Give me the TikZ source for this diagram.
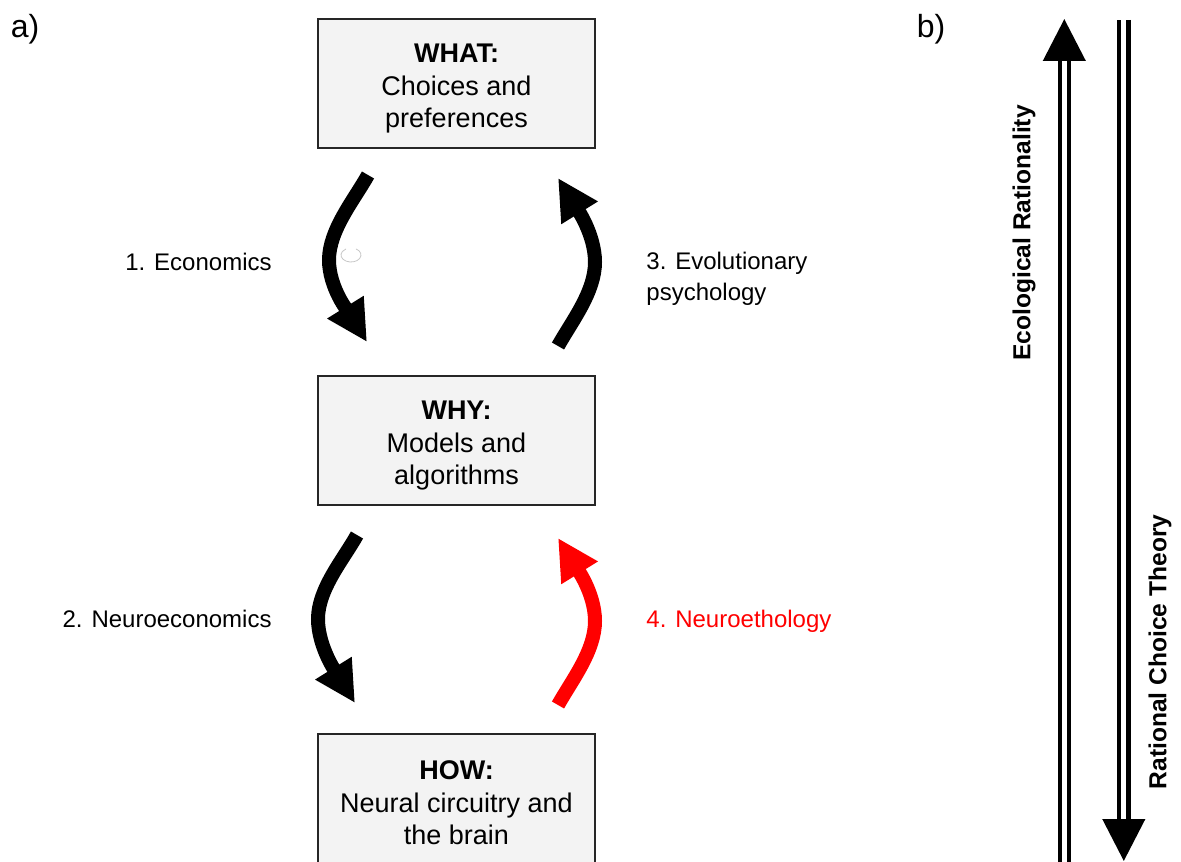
\documentclass[tikz,border=0pt]{standalone}
\usepackage{fontspec}
\setmainfont{Liberation Sans}
\usetikzlibrary{arrows.meta}
\definecolor{boxGray}{RGB}{243,243,243}
\definecolor{edgeGray}{RGB}{38,38,38}
\definecolor{ethoRed}{RGB}{255,0,0}
\tikzset{
  stage/.style={draw=edgeGray, line width=1pt, fill=boxGray, align=center, minimum width=138.5pt, minimum height=64.5pt, font=\fontsize{13.5}{16.2}\selectfont},
  swoop/.style={line width=7pt, -{Triangle[length=20.5pt,width=20pt]}},
  twin/.style={double, line width=2.2pt, double distance=2.4pt, -{Triangle[length=21pt,width=21pt]}},
  lbl/.style={align=left, font=\fontsize{12}{15.5}\selectfont, inner sep=0pt},
  sidelbl/.style={rotate=90, font=\fontsize{12.3}{15}\selectfont\bfseries, inner sep=0pt},
  panel/.style={font=\fontsize{16}{18}\selectfont, inner sep=0pt}
}
\newcommand{\headline}[1]{\rule{0pt}{14.5pt}\textbf{#1}}

\begin{document}
\begin{tikzpicture}[x=0.5pt,y=-0.5pt]
  \useasboundingbox (0,0) rectangle (1181,861);
  \clip (0,0) rectangle (1181,861);

  % panel a: the three levels
  \node[panel] (pa) at (25,29) {a)};
  \node[stage] (what) at (456.5,83.5) {\headline{WHAT:}\\Choices and\\preferences};
  \node[stage] (why) at (456.5,440.5) {\headline{WHY:}\\Models and\\algorithms};
  \node[stage] (how) at (456.5,798) {\headline{HOW:}\\Neural circuitry and\\the brain};

  \coordinate (econ-from) at (368,175);
  \coordinate (econ-via) at (329,260);
  \coordinate (econ-to) at (367,342);
  \coordinate (nec-from) at (357,535);
  \coordinate (nec-via) at (318,619);
  \coordinate (nec-to) at (355,703);
  \coordinate (evo-from) at (558,346);
  \coordinate (evo-via) at (595,262);
  \coordinate (evo-to) at (558,178);
  \coordinate (eth-from) at (558,705);
  \coordinate (eth-via) at (595,621);
  \coordinate (eth-to) at (558,538);

  \draw[swoop] (econ-from) .. controls +(-14,25) and +(0,-30) .. (econ-via)
    .. controls +(0,28) and +(-18,-29) .. (econ-to);
  \draw[swoop] (nec-from) .. controls +(-14,25) and +(0,-30) .. (nec-via)
    .. controls +(0,28) and +(-18,-29) .. (nec-to);
  \draw[swoop] (evo-from) .. controls +(14,-25) and +(0,30) .. (evo-via)
    .. controls +(0,-28) and +(18,29) .. (evo-to);
  \draw[swoop, ethoRed] (eth-from) .. controls +(14,-25) and +(0,30) .. (eth-via)
    .. controls +(0,-28) and +(18,29) .. (eth-to);

  \node[lbl, anchor=east] (econ) at (272,262) {1. Economics};
  \node[lbl, anchor=east] (nec) at (272,619) {2. Neuroeconomics};
  \node[lbl, anchor=west] (evo) at (646,279) {3. Evolutionary\\psychology};
  \node[lbl, anchor=west, text=ethoRed] (eth) at (646,621) {4. Neuroethology};

  % stray handle mark
  \draw[gray!45, line width=0.4pt] (351,255) ++(-60:10 and 7) arc[start angle=-60, end angle=240, x radius=10, y radius=7];

  % panel b: the two directions
  \node[panel] (pb) at (931,29) {b)};
  \coordinate (eco-base) at (1064.3,875);
  \coordinate (eco-tip) at (1064.3,19);
  \coordinate (rct-base) at (1123.8,20);
  \coordinate (rct-tip) at (1123.8,861);
  \draw[twin] (eco-base) -- (eco-tip);
  \draw[twin] (rct-base) -- (rct-tip);
  \node[sidelbl] (ecorat) at (1024,233) {Ecological Rationality};
  \node[sidelbl] (rct) at (1160,652) {Rational Choice Theory};
\end{tikzpicture}
\end{document}
